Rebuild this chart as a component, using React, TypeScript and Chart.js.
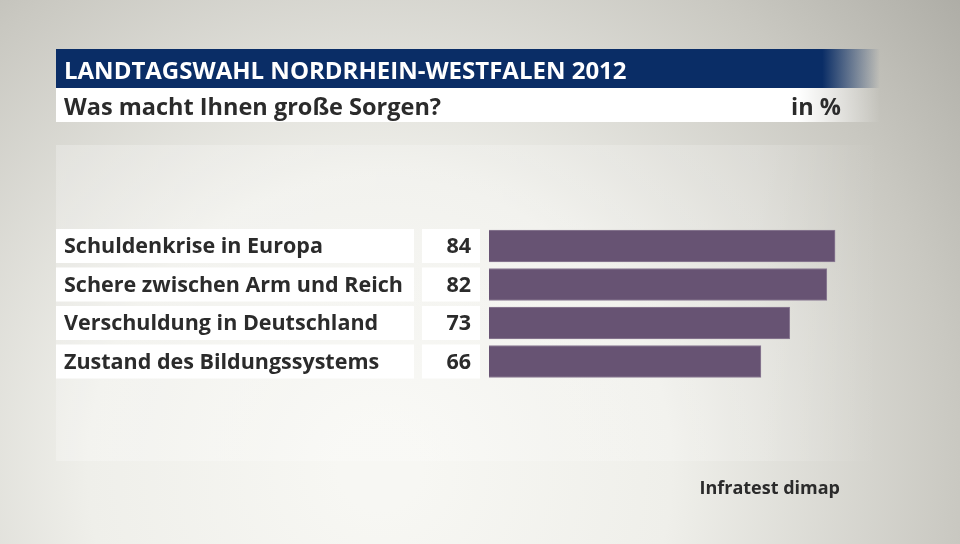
import React, { useEffect, useRef } from "react";
import { Chart, registerables } from "chart.js";

Chart.register(...registerables);

const categories = [
  "Schuldenkrise in Europa",
  "Schere zwischen Arm und Reich",
  "Verschuldung in Deutschland",
  "Zustand des Bildungssystems",
];
const values = [84, 82, 73, 66];
const title = "LANDTAGSWAHL NORDRHEIN-WESTFALEN 2012";
const subtitle = "Was macht Ihnen große Sorgen?";
const unit = "in %";
const source = "Infratest dimap";

const FONT = "'Open Sans', 'DejaVu Sans', sans-serif";

const decorPlugin = {
  id: "decor",
  beforeDraw(chart: any) {
    const { ctx, width, height } = chart;
    ctx.save();
    // background
    const rg = ctx.createRadialGradient(380, 470, 40, 380, 470, 760);
    rg.addColorStop(0, "#f7f7f3");
    rg.addColorStop(0.35, "#efefea");
    rg.addColorStop(0.75, "#c9c8c1");
    rg.addColorStop(1, "#acaba4");
    ctx.fillStyle = rg;
    ctx.fillRect(0, 0, width, height);
    // light panel
    const pg = ctx.createLinearGradient(56, 0, 880, 0);
    pg.addColorStop(0, "rgba(255,255,255,0.25)");
    pg.addColorStop(0.85, "rgba(255,255,255,0.18)");
    pg.addColorStop(1, "rgba(255,255,255,0)");
    ctx.fillStyle = pg;
    ctx.fillRect(56, 145, 824, 316);

    // title bar
    const tg = ctx.createLinearGradient(56, 0, 880, 0);
    tg.addColorStop(0, "#0a2d66");
    tg.addColorStop(0.93, "#0a2d66");
    tg.addColorStop(1, "rgba(10,45,102,0)");
    ctx.fillStyle = tg;
    ctx.fillRect(56, 49, 824, 39);
    const sg = ctx.createLinearGradient(56, 0, 880, 0);
    sg.addColorStop(0, "#ffffff");
    sg.addColorStop(0.9, "#ffffff");
    sg.addColorStop(1, "rgba(255,255,255,0)");
    ctx.fillStyle = sg;
    ctx.fillRect(56, 88, 824, 34);

    ctx.textBaseline = "alphabetic";
    ctx.fillStyle = "#ffffff";
    ctx.font = `bold 24px ${FONT}`;
    ctx.textAlign = "left";
    ctx.fillText(title, 64, 79);
    ctx.fillStyle = "#2b2b2b";
    ctx.font = `bold 23.5px ${FONT}`;
    ctx.fillText(subtitle, 64, 115);
    ctx.textAlign = "right";
    ctx.fillText(unit, 841, 115);

    ctx.font = `bold 18px ${FONT}`;
    ctx.fillText(source, 840, 494);

    // row boxes and labels
    const yScale = chart.scales.y;
    categories.forEach((c: string, i: number) => {
      const yc = yScale.getPixelForValue(i);
      ctx.fillStyle = "#ffffff";
      ctx.fillRect(56, yc - 17, 358, 34);
      ctx.fillRect(422, yc - 17, 58, 34);
      ctx.fillStyle = "#2b2b2b";
      ctx.font = `bold 21.5px ${FONT}`;
      ctx.textBaseline = "middle";
      ctx.textAlign = "left";
      ctx.fillText(c, 64, yc + 1);
      ctx.textAlign = "right";
      ctx.fillText(String(values[i]), 471, yc + 1);
    });
    ctx.restore();
  },
};

export default function App() {
  const ref = useRef<HTMLCanvasElement | null>(null);
  useEffect(() => {
    if (!ref.current) return;
    const chart = new Chart(ref.current, {
      type: "bar",
      data: {
        labels: categories,
        datasets: [
          {
            data: values,
            backgroundColor: "#675373",
            borderColor: "#8c7c95",
            borderWidth: 1,
            barThickness: 32,
          },
        ],
      },
      options: {
        indexAxis: "y",
        animation: false,
        responsive: false,
        maintainAspectRatio: false,
        layout: { padding: { left: 489, right: 59, top: 226.75, bottom: 163.25 } },
        scales: {
          x: { display: false, min: 0, max: 100 },
          y: { display: false },
        },
        plugins: {
          legend: { display: false },
          tooltip: { enabled: false },
        },
      },
      plugins: [decorPlugin],
    });
    return () => chart.destroy();
  }, []);
  return (
    <div style={{ position: "absolute", left: 0, top: 0, width: 960, height: 544 }}>
      <canvas ref={ref} width={960} height={544} style={{ width: 960, height: 544, display: "block" }} />
    </div>
  );
}
